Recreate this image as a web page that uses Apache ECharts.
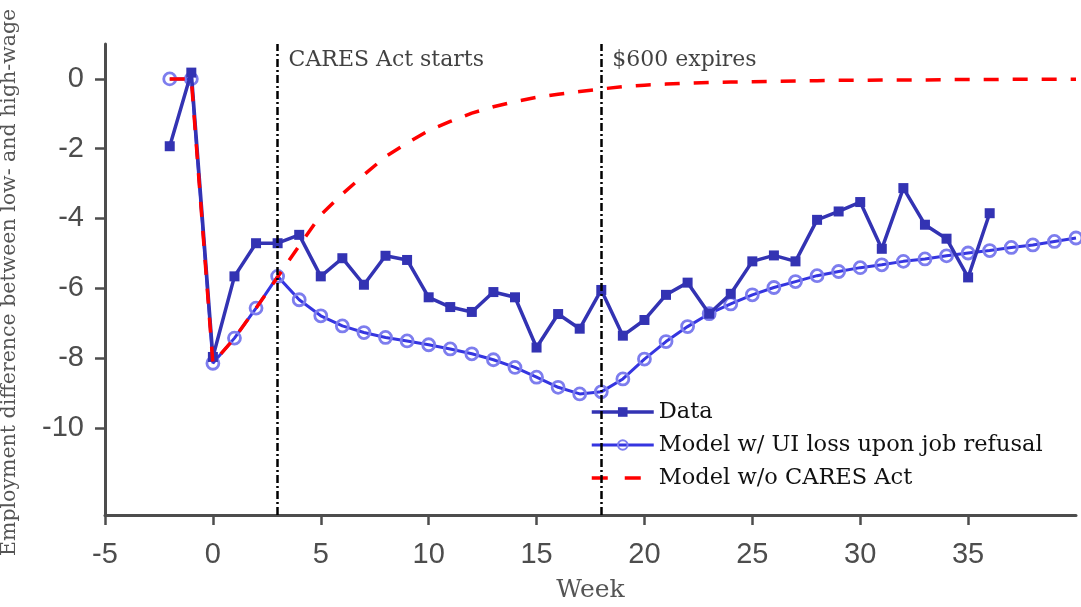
<!DOCTYPE html>
<html>
<head>
<meta charset="utf-8">
<script src="https://cdn.jsdelivr.net/npm/echarts@6/dist/echarts.min.js"></script>
<style>
html,body{margin:0;padding:0;background:#fff;}
#chart{width:1081px;height:607px;}
</style>
</head>
<body>
<div id="chart"></div>
<script>
// ---- data ----
const dataWeeks = [-2,-1,0,1,2,3,4,5,6,7,8,9,10,11,12,13,14,15,16,17,18,19,20,21,22,23,24,25,26,27,28,29,30,31,32,33,34,35,36];
const dataValues = [-1.93,0.18,-7.97,-5.66,-4.71,-4.71,-4.47,-5.66,-5.14,-5.90,-5.07,-5.19,-6.26,-6.54,-6.68,-6.11,-6.26,-7.70,-6.74,-7.16,-6.05,-7.36,-6.91,-6.19,-5.84,-6.73,-6.16,-5.23,-5.06,-5.23,-4.04,-3.80,-3.53,-4.87,-3.13,-4.18,-4.58,-5.69,-3.85];

const modelWeeks = [-2,-1,0,1,2,3,4,5,6,7,8,9,10,11,12,13,14,15,16,17,18,19,20,21,22,23,24,25,26,27,28,29,30,31,32,33,34,35,36,37,38,39,40];
const modelValues = [0,0,-8.15,-7.43,-6.57,-5.66,-6.33,-6.79,-7.08,-7.27,-7.41,-7.51,-7.62,-7.74,-7.88,-8.05,-8.27,-8.55,-8.84,-9.03,-8.97,-8.60,-8.03,-7.53,-7.10,-6.73,-6.45,-6.19,-5.98,-5.81,-5.64,-5.52,-5.41,-5.33,-5.23,-5.16,-5.07,-4.99,-4.92,-4.83,-4.76,-4.66,-4.56];

const noCaresWeeks = modelWeeks;
const noCaresValues = [0,0,-8.15,-7.43,-6.57,-5.68,-4.78,-3.90,-3.30,-2.75,-2.23,-1.84,-1.48,-1.22,-0.98,-0.80,-0.65,-0.53,-0.44,-0.36,-0.29,-0.22,-0.18,-0.15,-0.12,-0.10,-0.09,-0.08,-0.07,-0.06,-0.05,-0.04,-0.04,-0.03,-0.03,-0.03,-0.02,-0.02,-0.02,-0.01,-0.01,-0.01,-0.01];

const seriesNames = ['Data', 'Model w/ UI loss upon job refusal', 'Model w/o CARES Act'];
const eventWeeks = [3, 18];
const eventLabels = ['CARES Act starts', '$600 expires'];
const xTickValues = [-5,0,5,10,15,20,25,30,35];
const yTickValues = [0,-2,-4,-6,-8,-10];
const xAxisTitle = 'Week';
const yAxisTitle = 'Employment difference between low- and high-wage';

// ---- chart ----
const chart = echarts.init(document.getElementById('chart'), null, {renderer: 'canvas'});
const pair = (ws, vs) => ws.map((w, i) => [w, vs[i]]);
const axisGray = '#4d4d4d';
const serif = 'DejaVu Serif';

const option = {
  animation: false,
  grid: {left: 105, right: 5, top: 44, bottom: 92, containLabel: false, outerBoundsMode: 'none'},
  xAxis: {
    type: 'value', min: -5, max: 40,
    name: xAxisTitle, nameLocation: 'middle', nameGap: 63,
    nameTextStyle: {fontFamily: serif, fontSize: 25, color: '#555'},
    axisLine: {show: true, onZero: false, lineStyle: {color: axisGray, width: 3}},
    axisTick: {show: true, length: 10, lineStyle: {color: axisGray, width: 2.5}, customValues: xTickValues},
    axisLabel: {show: true, margin: 25, fontFamily: 'Liberation Sans', fontSize: 29, color: '#4d4d4d', customValues: xTickValues},
    splitLine: {show: false}
  },
  yAxis: {
    type: 'value', min: -12.5, max: 1,
    axisLine: {show: true, onZero: false, lineStyle: {color: axisGray, width: 3}},
    axisTick: {show: true, length: 10, lineStyle: {color: axisGray, width: 2.5}, customValues: yTickValues},
    axisLabel: {show: true, margin: 21, fontFamily: 'Liberation Sans', fontSize: 29, color: '#4d4d4d', customValues: yTickValues},
    splitLine: {show: false}
  },
  legend: {
    orient: 'vertical', left: 585, top: 395,
    itemWidth: 62, itemHeight: 12, itemGap: 9,
    data: [
      {name: seriesNames[0], lineStyle: {width: 3.5, color: '#3333b3'}},
      {name: seriesNames[1], lineStyle: {width: 3, color: '#3535e0'}},
      {name: seriesNames[2], itemStyle: {opacity: 0}, lineStyle: {width: 3.5, color: '#ff0000', type: [16, 17]}}
    ],
    textStyle: {fontFamily: serif, fontSize: 22.5, color: '#111', lineHeight: 24},
    backgroundColor: 'rgba(0,0,0,0)'
  },
  graphic: [{
    type: 'text', x: 10, y: 556, rotation: Math.PI / 2,
    style: {text: yAxisTitle, fontFamily: serif, fontSize: 20.5, fill: '#555', align: 'left', verticalAlign: 'middle'}
  }],
  series: [
    {
      name: seriesNames[0], type: 'line', data: pair(dataWeeks, dataValues),
      symbol: 'rect', symbolSize: 10, showAllSymbol: true,
      lineStyle: {color: '#3333b3', width: 3.5},
      itemStyle: {color: '#3333b3'}, z: 3
    },
    {
      name: seriesNames[1], type: 'line', data: pair(modelWeeks, modelValues),
      symbol: 'circle', symbolSize: 12, showAllSymbol: true,
      lineStyle: {color: '#3535e0', width: 3},
      itemStyle: {color: 'rgba(255,255,255,0)', borderColor: '#7d7dee', borderWidth: 2.8}, z: 2
    },
    {
      name: seriesNames[2], type: 'line', data: pair(noCaresWeeks, noCaresValues),
      symbol: 'none',
      lineStyle: {color: '#ff0000', width: 3.5, type: [15, 14]},
      itemStyle: {color: '#ff0000'}, z: 4
    },
    {
      name: 'events', type: 'scatter', symbolSize: 0,
      data: eventWeeks.map((w, i) => [w, 0.54, eventLabels[i]]),
      label: {show: true, position: 'right', distance: 11, formatter: p => p.data[2],
        fontFamily: serif, fontSize: 22, color: '#111'},
      markLine: {
        silent: true, symbol: 'none',
        label: {show: false},
        lineStyle: {color: '#000', width: 2.5, type: [8, 3, 2, 3]},
        data: eventWeeks.map(w => ({xAxis: w}))
      },
      z: 1
    }
  ]
};
chart.setOption(option);
</script>
</body>
</html>
